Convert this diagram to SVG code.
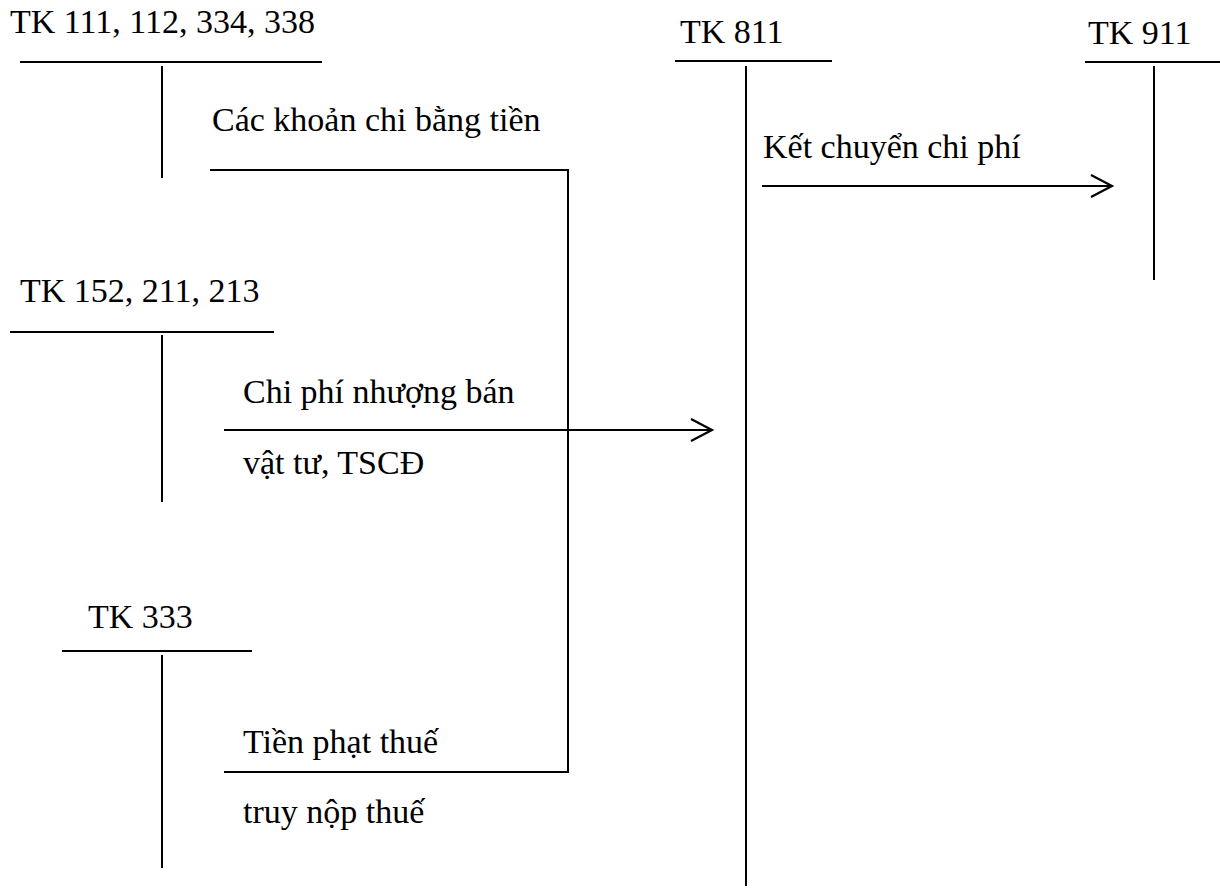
<svg xmlns="http://www.w3.org/2000/svg" width="1220" height="890" viewBox="0 0 1220 890">
  <style>
    .t { font-family: "Times New Roman", "Liberation Serif", "Tinos", "DejaVu Serif", serif; font-size: 34px; fill: #000; }
    .ln { stroke: #000; stroke-width: 2; fill: none; }
  </style>
  <defs>
    <marker id="open" markerUnits="userSpaceOnUse" markerWidth="30" markerHeight="30" refX="24" refY="12" orient="auto">
      <path d="M3,1 L24,12 L3,23" fill="none" stroke="#000" stroke-width="2.2"/>
    </marker>
  </defs>
  <rect width="1220" height="890" fill="#fff"/>

  <!-- T-accounts -->
  <g id="tk111">
    <text class="t" x="10" y="33">TK 111, 112, 334, 338</text>
    <line class="ln" x1="20" y1="62" x2="322" y2="62"/>
    <line class="ln" x1="162" y1="66" x2="162" y2="178"/>
  </g>
  <g id="tk152">
    <text class="t" x="20" y="302">TK 152, 211, 213</text>
    <line class="ln" x1="10" y1="332" x2="274" y2="332"/>
    <line class="ln" x1="162" y1="335" x2="162" y2="502"/>
  </g>
  <g id="tk333">
    <text class="t" x="88" y="628">TK 333</text>
    <line class="ln" x1="62" y1="651" x2="252" y2="651"/>
    <line class="ln" x1="162" y1="655" x2="162" y2="868"/>
  </g>
  <g id="tk811">
    <text class="t" x="680" y="43">TK 811</text>
    <line class="ln" x1="675" y1="61" x2="832" y2="61"/>
    <line class="ln" x1="746" y1="66" x2="746" y2="886"/>
  </g>
  <g id="tk911">
    <text class="t" x="1088" y="44">TK 911</text>
    <line class="ln" x1="1085" y1="62" x2="1220" y2="62"/>
    <line class="ln" x1="1154" y1="66" x2="1154" y2="280"/>
  </g>

  <!-- Connectors -->
  <g id="connectors">
    <polyline class="ln" points="210,170 568,170 568,772 224,772"/>
    <line class="ln" x1="224" y1="430" x2="712" y2="430" marker-end="url(#open)"/>
    <line class="ln" x1="762" y1="186" x2="1112" y2="186" marker-end="url(#open)"/>
  </g>

  <!-- Connector labels -->
  <g id="labels">
    <text class="t" x="212" y="131">Các khoản chi bằng tiền</text>
    <text class="t" x="763" y="158">Kết chuyển chi phí</text>
    <text class="t" x="243" y="403">Chi phí nhượng bán</text>
    <text class="t" x="243" y="474">vật tư, TSCĐ</text>
    <text class="t" x="243" y="753">Tiền phạt thuế</text>
    <text class="t" x="243" y="823">truy nộp thuế</text>
  </g>
</svg>
